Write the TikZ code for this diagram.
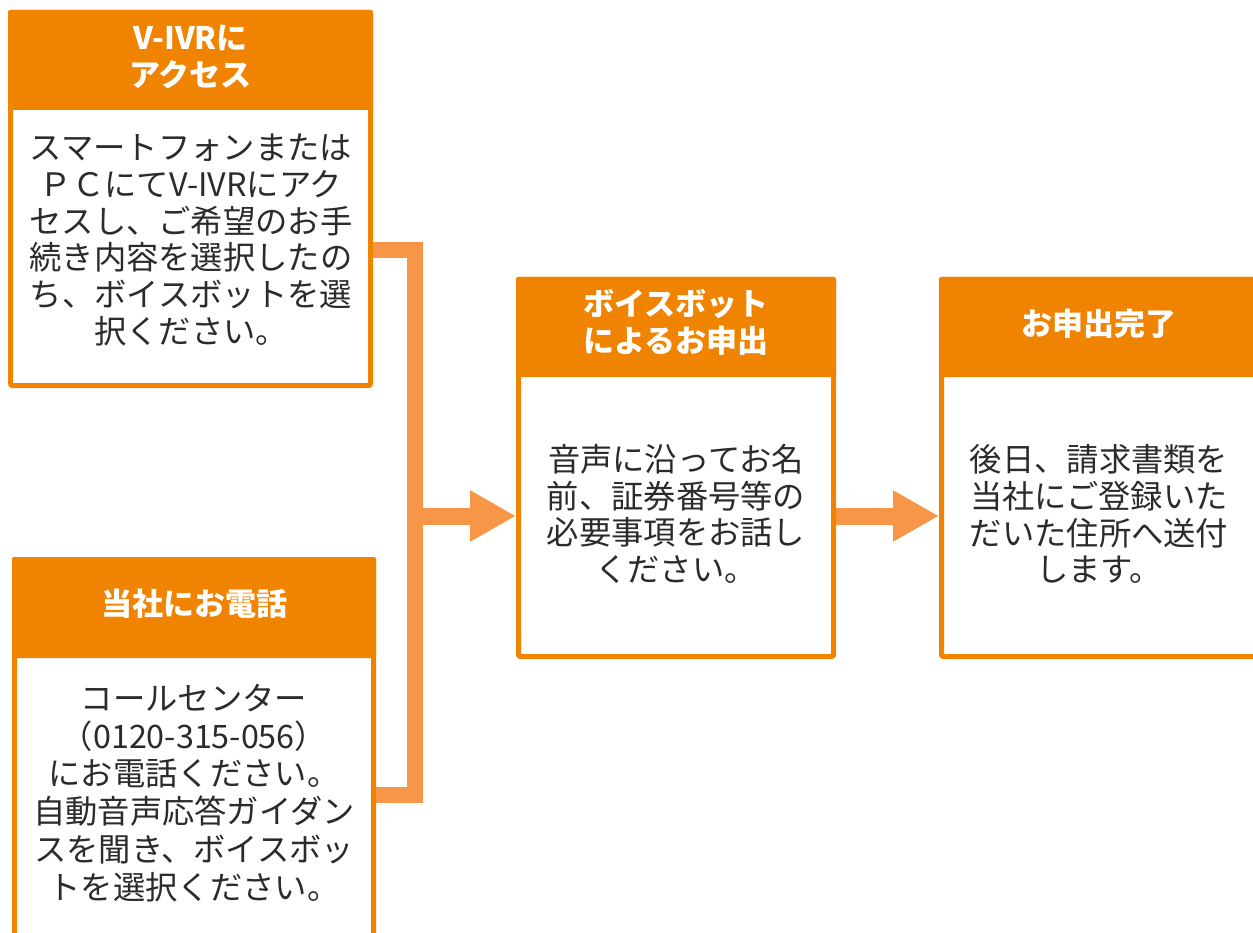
\documentclass[tikz,border=0pt]{standalone}
\usepackage{fontspec}
\newfontfamily\jp{Noto Sans CJK JP}
\usetikzlibrary{arrows.meta,backgrounds}
\definecolor{orng}{HTML}{F08300}
\definecolor{conncol}{HTML}{F79646}
\definecolor{txtcol}{HTML}{2B2B2B}
\tikzset{
  boxframe/.style={draw=orng, line width=5pt, fill=white, inner sep=0pt, outer sep=2.5pt, anchor=north west, rounded corners=2pt},
  hdr/.style={fill=orng, text=white, inner sep=0pt, outer sep=0pt, anchor=north west, align=center,
    font=\jp\bfseries\fontsize{31}{37}\selectfont, rounded corners=2pt},
  hdrtxt/.style={text=white, inner sep=0pt, align=center, font=\jp\bfseries\fontsize{31}{37}\selectfont},
  bodytxt/.style={text=txtcol, inner sep=0pt, align=center, font=\jp\fontsize{32.3}{36.8}\selectfont},
  conn/.style={draw=conncol, line width=16pt, line join=miter},
  arr/.style={draw=conncol, line width=17pt, -{Triangle[length=46pt,width=48pt]}}
}
\begin{document}
\begin{tikzpicture}[x=1pt,y=-1pt]
\useasboundingbox (0,0) rectangle (1253,933);
\clip (0,0) rectangle (1253,933);
% boxes
\node[boxframe, minimum width=360pt, minimum height=373pt] (b1) at (8,10) {};
\node[hdr, minimum width=365pt, minimum height=100pt] (h1) at (8,10) {};
\node[hdrtxt] (l1) at (190.5,57) {V-IVRに\\アクセス};
\node[bodytxt] (t1) at (191,240) {スマートフォンまたは\\ＰＣにてV-IVRにアク\\セスし、ご希望のお手\\続き内容を選択したの\\ち、ボイスボットを選\\択ください。};

\node[boxframe, minimum width=359pt, minimum height=390pt] (b2) at (12,557) {};
\node[hdr, minimum width=364pt, minimum height=101pt] (h2) at (12,557) {};
\node[hdrtxt] (l2) at (194,604) {当社にお電話};
\node[bodytxt, font=\jp\fontsize{32.3}{37.8}\selectfont] (t2) at (194,793) {コールセンター\\（0120-315-056）\\にお電話ください。\\自動音声応答ガイダン\\スを聞き、ボイスボッ\\トを選択ください。};

\node[boxframe, minimum width=315pt, minimum height=377pt] (b3) at (516,277) {};
\node[hdr, minimum width=320pt, minimum height=100pt] (h3) at (516,277) {};
\node[hdrtxt] (l3) at (676,322) {ボイスボット\\によるお申出};
\node[bodytxt] (t3) at (676,514) {音声に沿ってお名\\前、証券番号等の\\必要事項をお話し\\ください。};

\node[boxframe, minimum width=325pt, minimum height=377pt] (b4) at (939,277) {};
\node[hdr, minimum width=330pt, minimum height=100pt] (h4) at (939,277) {};
\node[hdrtxt] (l4) at (1099,324) {お申出完了};
\node[bodytxt] (t4) at (1099,514) {後日、請求書類を\\当社にご登録いた\\だいた住所へ送付\\します。};

% connectors
\coordinate (j1) at (415,250);
\coordinate (j2) at (415,795);
\coordinate (j3) at (415,516);
\coordinate (m) at (0,516);
\begin{scope}[on background layer]
\draw[conn] (b1.east |- j1) -- (j1) -- (j2) -- (b2.east |- j2);
\draw[arr] (j3) -- (b3.west |- m);
\draw[arr] (b3.east |- m) -- (b4.west |- m);
\end{scope}
\end{tikzpicture}
\end{document}
